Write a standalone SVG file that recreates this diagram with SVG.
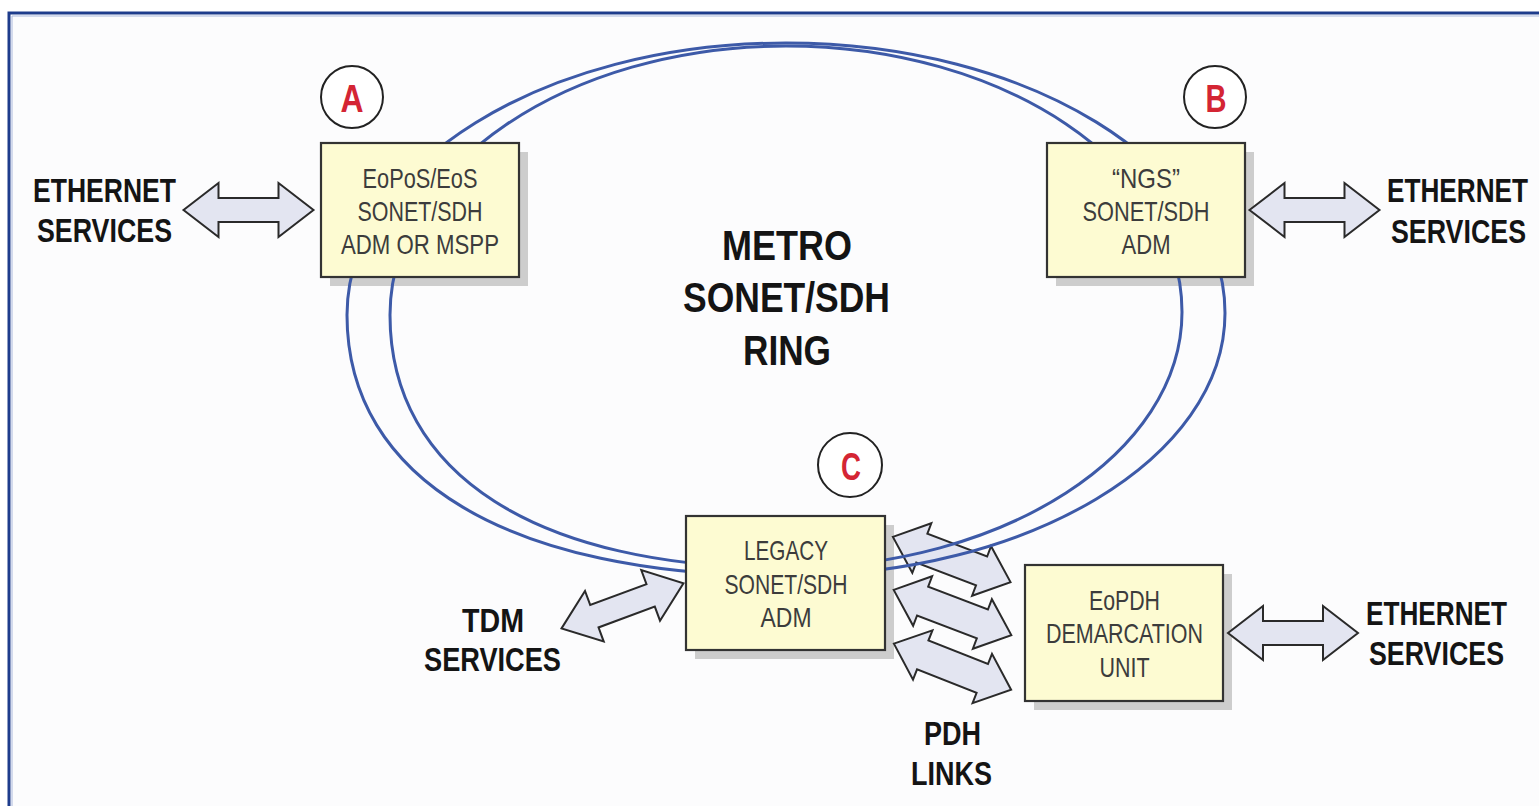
<svg xmlns="http://www.w3.org/2000/svg" width="1539" height="806" viewBox="0 0 1539 806">
<style>
.bg{fill:#fcfcfd}
.frame{fill:none;stroke:#1e3c8c;stroke-width:3}
.frame2{fill:none;stroke:#aab8dc;stroke-width:1}
.shadow{fill:#cdcdcd}
.box{fill:#fdfbd2;stroke:#333;stroke-width:2.2}
.btxt{font-family:"Liberation Sans Narrow","Liberation Sans",Arial,sans-serif;font-size:28px;fill:#3c3c3c;text-anchor:middle}
.lbl{font-family:"Liberation Sans Narrow","Liberation Sans",Arial,sans-serif;font-weight:bold;font-size:33px;fill:#141414}
.title{font-family:"Liberation Sans Narrow","Liberation Sans",Arial,sans-serif;font-weight:bold;font-size:43px;fill:#141414;text-anchor:middle}
.circ{fill:#fff;stroke:#222;stroke-width:2}
.letter{font-family:"Liberation Sans Narrow","Liberation Sans",Arial,sans-serif;font-weight:bold;font-size:39px;fill:#d42534;text-anchor:middle}
.ring{fill:none;stroke:#3d5aa8;stroke-width:3}
.arrow{fill:#e3e5f1;stroke:#2a2a2a;stroke-width:2;stroke-linejoin:miter}
</style>
<defs>
<path id="dblarrow" d="M-65,0 L-30,-27 L-30,-12 L30,-12 L30,-27 L65,0 L30,27 L30,12 L-30,12 L-30,27 Z"/>
<path id="pdharrow" d="M-63,0 L-32,-26.5 L-32,-15.5 L32,-15.5 L32,-26.5 L63,0 L32,26.5 L32,15.5 L-32,15.5 L-32,26.5 Z"/>
</defs>
<rect x="0" y="0" width="1539" height="806" fill="#ffffff"/>
<rect class="bg" x="9" y="13" width="1530" height="793"/>
<path class="frame2" d="M12,806 L12,16 L1539,16"/>
<path class="frame" d="M9,806 L9,13 L1539,13"/>

<g id="shadows">
<rect class="shadow" x="330" y="152" width="198" height="134"/>
<rect class="shadow" x="1056" y="152" width="198" height="134"/>
<rect class="shadow" x="695" y="525" width="199" height="134"/>
<rect class="shadow" x="1034" y="574" width="198" height="136"/>
</g>

<g id="connectors">
<use href="#dblarrow" class="arrow" transform="translate(248.5,210)"/>
<use href="#dblarrow" class="arrow" transform="translate(1314.5,210)"/>
<use href="#dblarrow" class="arrow" transform="translate(1293,633)"/>
<use href="#dblarrow" class="arrow" transform="translate(622.5,605.8) rotate(-20.3)"/>
<use href="#pdharrow" class="arrow" transform="translate(951.7,559.5) rotate(21)"/>
<use href="#pdharrow" class="arrow" transform="translate(952.5,612.5) rotate(21)"/>
<use href="#pdharrow" class="arrow" transform="translate(952.5,666.7) rotate(21.5)"/>
<path class="ring" d="M786,43 C543.7,43 347,164.9 347,315 C347,479.4 509.4,576 786,576 C1028.3,576 1225,458.2 1225,313 C1225,164 1028.3,43 786,43 Z"/>
<path class="ring" d="M786,46 C567.4,46 390,166.5 390,315 C390,474.4 536.5,568 786,568 C1004.6,568 1182,453.3 1182,312 C1182,165.2 1004.6,46 786,46 Z"/>
</g>

<g id="node-A">
<rect class="box" x="321" y="143" width="198" height="134"/>
<text class="btxt" x="420" y="188" textLength="115" lengthAdjust="spacingAndGlyphs">EoPoS/EoS</text>
<text class="btxt" x="420" y="221" textLength="125" lengthAdjust="spacingAndGlyphs">SONET/SDH</text>
<text class="btxt" x="420" y="254" textLength="158" lengthAdjust="spacingAndGlyphs">ADM OR MSPP</text>
</g>
<g id="node-B">
<rect class="box" x="1047" y="143" width="198" height="134"/>
<text class="btxt" x="1146" y="188" textLength="68" lengthAdjust="spacingAndGlyphs">“NGS”</text>
<text class="btxt" x="1146" y="221" textLength="127" lengthAdjust="spacingAndGlyphs">SONET/SDH</text>
<text class="btxt" x="1146" y="254" textLength="49" lengthAdjust="spacingAndGlyphs">ADM</text>
</g>
<g id="node-C">
<rect class="box" x="686" y="516" width="199" height="134"/>
<text class="btxt" x="786" y="560" textLength="84" lengthAdjust="spacingAndGlyphs">LEGACY</text>
<text class="btxt" x="786" y="594" textLength="123" lengthAdjust="spacingAndGlyphs">SONET/SDH</text>
<text class="btxt" x="786" y="627" textLength="51" lengthAdjust="spacingAndGlyphs">ADM</text>
</g>
<g id="node-D">
<rect class="box" x="1025" y="565" width="198" height="136"/>
<text class="btxt" x="1124.5" y="610" textLength="71" lengthAdjust="spacingAndGlyphs">EoPDH</text>
<text class="btxt" x="1124.5" y="643" textLength="157" lengthAdjust="spacingAndGlyphs">DEMARCATION</text>
<text class="btxt" x="1124.5" y="677" textLength="50" lengthAdjust="spacingAndGlyphs">UNIT</text>
</g>

<g id="marker-A">
<circle class="circ" cx="352" cy="97" r="31"/>
<text class="letter" x="352" y="112" textLength="23" lengthAdjust="spacingAndGlyphs">A</text>
</g>
<g id="marker-B">
<circle class="circ" cx="1215" cy="97" r="31"/>
<text class="letter" x="1216" y="112" textLength="21" lengthAdjust="spacingAndGlyphs">B</text>
</g>
<g id="marker-C">
<circle class="circ" cx="850" cy="465" r="32"/>
<text class="letter" x="851" y="480" textLength="20" lengthAdjust="spacingAndGlyphs">C</text>
</g>

<g id="label-ring">
<text class="title" x="787" y="260" textLength="130" lengthAdjust="spacingAndGlyphs">METRO</text>
<text class="title" x="786.5" y="312" textLength="207" lengthAdjust="spacingAndGlyphs">SONET/SDH</text>
<text class="title" x="787" y="365" textLength="88" lengthAdjust="spacingAndGlyphs">RING</text>
</g>
<g id="label-eth-A">
<text class="lbl" x="33" y="202" textLength="143" lengthAdjust="spacingAndGlyphs">ETHERNET</text>
<text class="lbl" x="37" y="242" textLength="135" lengthAdjust="spacingAndGlyphs">SERVICES</text>
</g>
<g id="label-eth-B">
<text class="lbl" x="1387" y="202" textLength="141" lengthAdjust="spacingAndGlyphs">ETHERNET</text>
<text class="lbl" x="1391" y="243" textLength="135" lengthAdjust="spacingAndGlyphs">SERVICES</text>
</g>
<g id="label-eth-D">
<text class="lbl" x="1366" y="625" textLength="141" lengthAdjust="spacingAndGlyphs">ETHERNET</text>
<text class="lbl" x="1369" y="665" textLength="135" lengthAdjust="spacingAndGlyphs">SERVICES</text>
</g>
<g id="label-tdm">
<text class="lbl" x="462" y="632" textLength="62" lengthAdjust="spacingAndGlyphs">TDM</text>
<text class="lbl" x="424" y="671" textLength="137" lengthAdjust="spacingAndGlyphs">SERVICES</text>
</g>
<g id="label-pdh">
<text class="lbl" x="924" y="745" textLength="57" lengthAdjust="spacingAndGlyphs">PDH</text>
<text class="lbl" x="911" y="785" textLength="81" lengthAdjust="spacingAndGlyphs">LINKS</text>
</g>
</svg>
